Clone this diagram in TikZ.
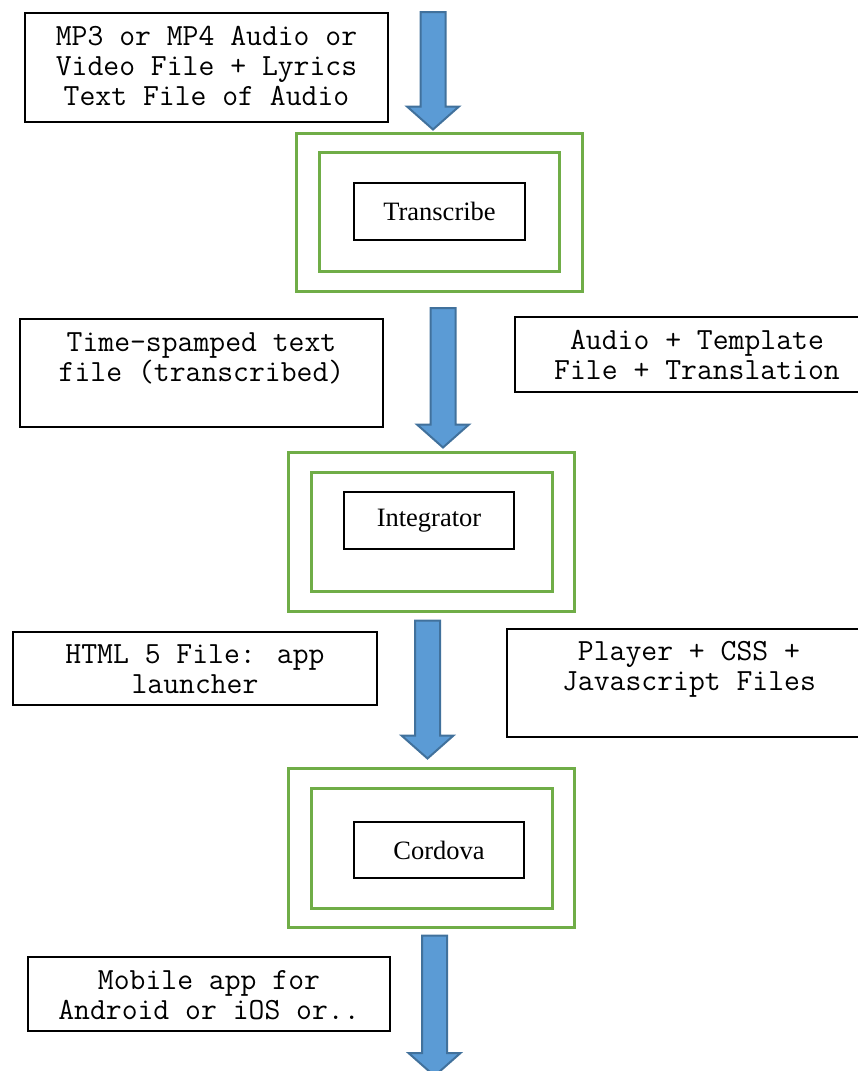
\documentclass[tikz,border=0pt]{standalone}
\usepackage{fontspec}
\setmainfont{Liberation Serif}
\usetikzlibrary{calc}
\definecolor{gbox}{HTML}{70AD47}
\definecolor{afill}{HTML}{5B9BD5}
\definecolor{aline}{HTML}{41719C}
\tikzset{
  filebox/.style={draw=black, line width=1.3pt, inner sep=0pt},
  ftext/.style={font=\ttfamily\fontsize{30.8}{30}\selectfont, align=center, inner sep=0pt, anchor=north},
  outerg/.style={draw=gbox, line width=3pt, inner sep=0pt},
  innerg/.style={draw=gbox, line width=3pt, inner sep=0pt},
  stagebox/.style={draw=black, line width=1.3pt, inner sep=0pt, font=\fontsize{26.5}{30}\selectfont},
  barrow/.style={fill=afill, draw=aline, line width=2pt, line join=miter}
}
% block arrow from top coordinate #1 to tip coordinate #2 (vertical)
\newcommand\blkarrow[2]{%
  \path[barrow] ($(#1)+(-12.5,0)$) -- ($(#1)+(12.5,0)$) -- ($(#2)+(12.5,-23)$) -- ($(#2)+(26,-23)$) -- (#2) -- ($(#2)+(-26,-23)$) -- ($(#2)+(-12.5,-23)$) -- cycle;}
\begin{document}
\begin{tikzpicture}[x=1pt,y=-1pt]
\useasboundingbox (0,0) rectangle (858,1071);

% stage 1
\node[outerg, minimum width=286pt, minimum height=158pt] (o1) at (439,212) {};
\node[innerg, minimum width=240pt, minimum height=119pt] (i1) at (439,211.5) {};
\node[stagebox, minimum width=171pt, minimum height=57pt] (t1) at (439.5,211.5) {Transcribe};

% stage 2
\node[outerg, minimum width=286pt, minimum height=159pt] (o2) at (431,531.5) {};
\node[innerg, minimum width=241pt, minimum height=119pt] (i2) at (431.5,531.5) {};
\node[stagebox, minimum width=170pt, minimum height=57pt] (t2) at (429,520.5) {Integrator};

% stage 3
\node[outerg, minimum width=286pt, minimum height=159pt] (o3) at (431,847.5) {};
\node[innerg, minimum width=241pt, minimum height=120pt] (i3) at (431.5,848) {};
\node[stagebox, minimum width=170pt, minimum height=56pt] (t3) at (439,850) {Cordova};

% file boxes
\node[filebox, minimum width=363pt, minimum height=109pt] (b1) at (206.5,67.5) {};
\node[ftext] at ($(b1.north)+(0,8.5)$) {\rule{0pt}{24pt}MP3 or MP4 Audio or\\Video File + Lyrics\\Text File of Audio};

\node[filebox, minimum width=363pt, minimum height=108pt] (b2) at (201.5,373) {};
\node[ftext] at ($(b2.north)+(0,8.5)$) {\rule{0pt}{24pt}Time-spamped text\\file (transcribed)};

\node[filebox, minimum width=364pt, minimum height=75pt] (b3) at (697,354.5) {};
\node[ftext] at ($(b3.north)+(0,8.5)$) {\rule{0pt}{24pt}Audio + Template\\File + Translation};

\node[filebox, minimum width=364pt, minimum height=73pt] (b4) at (195,668.5) {};
\node[ftext] at ($(b4.north)+(0,7.5)$) {\rule{0pt}{24pt}HTML 5 File: app\\launcher};

\node[filebox, minimum width=364pt, minimum height=108pt] (b5) at (689,683) {};
\node[ftext] at ($(b5.north)+(0,8)$) {\rule{0pt}{24pt}Player + CSS +\\Javascript Files};

\node[filebox, minimum width=362pt, minimum height=74pt] (b6) at (209,994) {};
\node[ftext] at ($(b6.north)+(0,8.5)$) {\rule{0pt}{24pt}Mobile app for\\Android or iOS or..};

% arrows
\coordinate (a1top) at (433,12);
\coordinate (a1tip) at ($(a1top |- o1.north)+(0,-2)$);
\blkarrow{a1top}{a1tip}

\coordinate (a2top) at (443,308);
\coordinate (a2tip) at ($(a2top |- o2.north)+(0,-3)$);
\blkarrow{a2top}{a2tip}

\coordinate (a3top) at ($(427.5,0 |- o2.south)+(0,8)$);
\coordinate (a3tip) at ($(a3top |- o3.north)+(0,-8)$);
\blkarrow{a3top}{a3tip}

\coordinate (a4top) at ($(434.5,0 |- o3.south)+(0,7)$);
\coordinate (a4tip) at (434.5,1076);
\blkarrow{a4top}{a4tip}
\end{tikzpicture}
\end{document}
